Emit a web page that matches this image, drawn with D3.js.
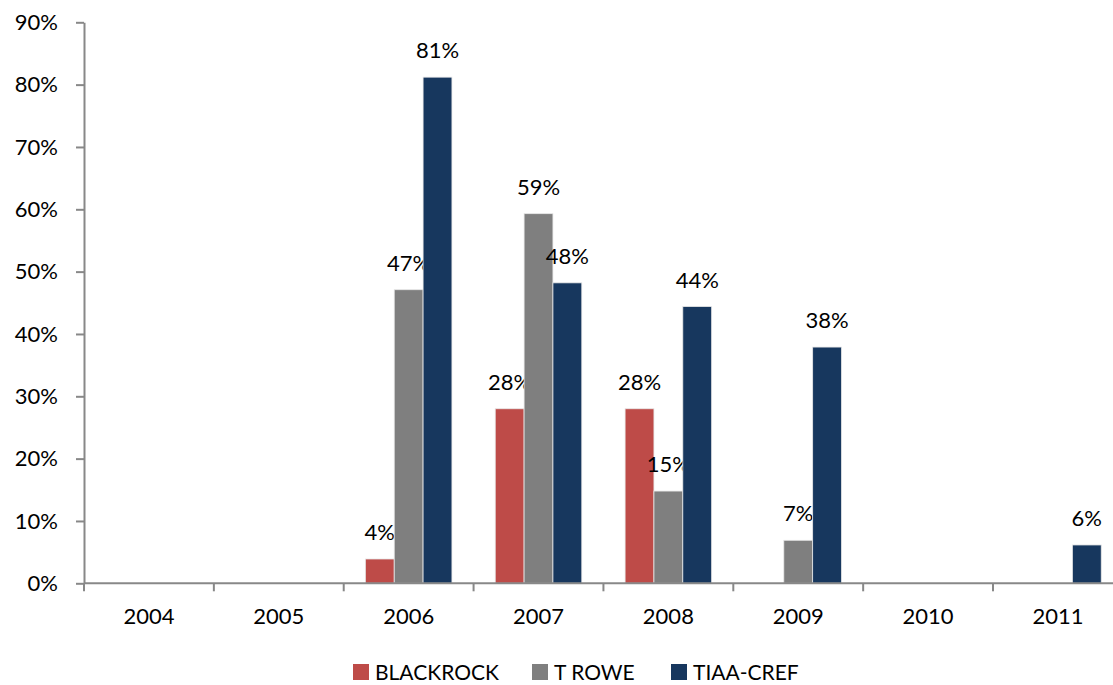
<!DOCTYPE html>
<html><head><meta charset="utf-8">
<script src="https://cdn.jsdelivr.net/npm/d3@7"></script>
<style>body{margin:0;background:#fff}svg{display:block}text{font-family:Lato,"Open Sans",sans-serif;fill:#000}</style>
</head><body>
<svg id="c" width="1113" height="685"></svg>
<script>
const years = ["2004","2005","2006","2007","2008","2009","2010","2011"];
const seriesNames = ["BLACKROCK","T ROWE","TIAA-CREF"];
const seriesColors = ["#BE4B48","#7F7F7F","#17375E"];
const blackrock = [null,null,3.9,28.0,28.0,null,null,null];
const trowe     = [null,null,47.1,59.3,14.8,6.9,null,null];
const tiaacref  = [null,null,81.2,48.2,44.4,37.9,null,6.15];
const yTicks = [0,10,20,30,40,50,60,70,80,90];

const seriesVals = [blackrock, trowe, tiaacref];
const svg = d3.select("#c");
const left = 84, step = 129.86, y0 = 583.3, yTop = 22.3;
const x0 = d3.scaleBand().domain(years).range([left, left + step*years.length]).padding(0);
const bw = x0.bandwidth();
const x1 = d3.scaleBand().domain(seriesNames).range([bw*0.75/4.5, bw*3.75/4.5]).padding(0);
const y = d3.scaleLinear().domain([0,90]).range([y0, yTop]);

// bars
seriesNames.forEach((s,i)=>{
  const data = years.map((yr,j)=>({yr, v: seriesVals[i][j]})).filter(d=>d.v!==null);
  const g = svg.append("g");
  g.selectAll("rect").data(data).join("rect")
    .attr("x", d=>x0(d.yr)+x1(s))
    .attr("y", d=>y(d.v))
    .attr("width", x1.bandwidth())
    .attr("height", d=>y0-y(d.v))
    .attr("fill", seriesColors[i])
    .attr("stroke", "#e8e8e8").attr("stroke-width", 0.8);
  g.selectAll("text").data(data).join("text")
    .attr("x", d=>x0(d.yr)+x1(s)+x1.bandwidth()/2)
    .attr("y", d=>y(d.v)-19)
    .attr("text-anchor","middle")
    .attr("font-size", 22)
    .text(d=>Math.round(d.v)+"%");
});

// y axis
const yAxis = d3.axisLeft(y).tickValues(yTicks).tickSize(8).tickSizeOuter(0).tickFormat(d=>d+"%").tickPadding(18);
const ga = svg.append("g").attr("transform",`translate(${left},0)`).call(yAxis);
ga.select(".domain").attr("stroke","#888").attr("stroke-width",2);
ga.selectAll(".tick line").attr("stroke","#888").attr("stroke-width",2);
ga.selectAll(".tick text").attr("font-size",22).attr("font-family","Lato,'Open Sans',sans-serif").attr("fill","#000");

// x axis
const xAxis = d3.axisBottom(x0).tickSize(0).tickPadding(25);
const gx = svg.append("g").attr("transform",`translate(0,${y0})`).call(xAxis);
gx.select(".domain").remove();
gx.selectAll(".tick text").attr("font-size",22).attr("font-family","Lato,'Open Sans',sans-serif").attr("fill","#000");
svg.append("line").attr("x1",left).attr("x2",1113).attr("y1",y0).attr("y2",y0).attr("stroke","#888").attr("stroke-width",2);
svg.append("g").selectAll("line").data(years).join("line")
  .attr("x1",d=>x0(d)).attr("x2",d=>x0(d)).attr("y1",y0).attr("y2",y0+8)
  .attr("stroke","#888").attr("stroke-width",2);

// legend
const legX = [353, 532, 671];
const lg = svg.append("g");
seriesNames.forEach((s,i)=>{
  lg.append("rect").attr("x",legX[i]).attr("y",664).attr("width",16).attr("height",16).attr("fill",seriesColors[i]);
  lg.append("text").attr("x",legX[i]+22).attr("y",680).attr("font-size",21).text(s);
});
</script>
</body></html>
